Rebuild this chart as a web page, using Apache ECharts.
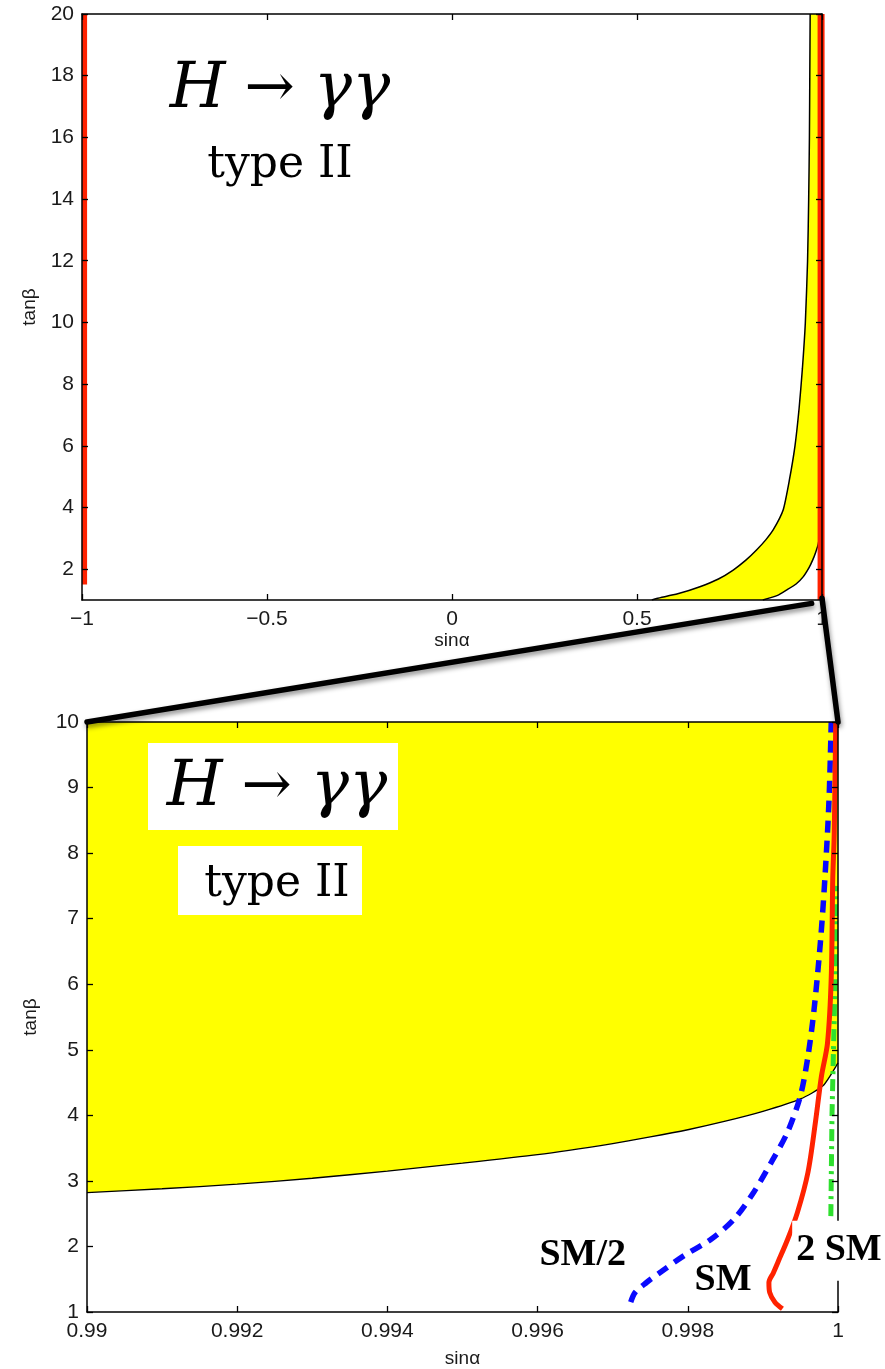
<!DOCTYPE html>
<html lang="en">
<head>
<meta charset="UTF-8">
<title>H → γγ type II</title>
<script src="https://cdn.jsdelivr.net/npm/echarts@6/dist/echarts.min.js"></script>
<style>
    html, body { margin: 0; padding: 0; background: #fff; }
    #chart { width: 885px; height: 1369px; }
</style>
</head>
<body>
<div id="chart"></div>
<script>
// ---- upper panel: sinα from -1 to 1 ----
var topLeftCurve = [[0.54, 1.0], [0.553, 1.05], [0.61, 1.2], [0.67, 1.43], [0.72, 1.68], [0.76, 1.97],
    [0.795, 2.3], [0.823, 2.62], [0.848, 2.95], [0.868, 3.27], [0.895, 3.92], [0.912, 4.9], [0.927, 6.0],
    [0.938, 7.2], [0.947, 8.5], [0.955, 10], [0.961, 12], [0.964, 14], [0.966, 16], [0.967, 18], [0.968, 20]];
var topRightCurve = [[0.84, 1.0], [0.88, 1.15], [0.904, 1.32], [0.93, 1.52], [0.949, 1.75], [0.965, 2.05],
    [0.975, 2.3], [0.983, 2.55], [0.99, 2.82], [0.995, 3.28], [1.0, 4.8]];
var topRedLeft = [[-0.993, 1.5], [-0.993, 20]];
var topRedRight = [[0.9975, 1], [0.9975, 20]];
var topYTicks = [2, 4, 6, 8, 10, 12, 14, 16, 18, 20];

// ---- lower panel: zoom on sinα 0.99 .. 1 ----
var lowerCurve = [[0.990, 2.82], [0.991, 2.88], [0.992, 2.95], [0.993, 3.04], [0.994, 3.15], [0.995, 3.27],
    [0.996, 3.40], [0.997, 3.57], [0.9975, 3.67], [0.998, 3.78], [0.9985, 3.91], [0.999, 4.06],
    [0.9995, 4.25], [0.9998, 4.45], [1.0, 4.8]];
var smHalf = [[0.99724, 1.15], [0.99730, 1.3], [0.99745, 1.45], [0.99764, 1.61], [0.99795, 1.86],
    [0.99831, 2.11], [0.99862, 2.42], [0.99888, 2.83], [0.99912, 3.3], [0.99933, 3.75], [0.99950, 4.3],
    [0.99960, 4.9], [0.99968, 5.6], [0.99977, 6.7], [0.99983, 7.7], [0.99988, 8.8], [0.99991, 10]];
var smOne = [[0.99926, 1.05], [0.99916, 1.15], [0.99909, 1.3], [0.99908, 1.45], [0.99914, 1.6],
    [0.99920, 1.76], [0.99933, 2.11], [0.99946, 2.52], [0.99960, 3.13], [0.99970, 3.9], [0.99978, 4.6],
    [0.99986, 5.1], [0.99991, 6.1], [0.99993, 7.6], [0.99995, 8.3], [0.99997, 10]];
var smTwo = [[0.99990, 1.7], [0.99990, 2], [0.99991, 3], [0.99992, 4], [0.99994, 5], [0.99996, 6], [0.99997, 7.5]];

// annotation baselines (lower panel data coords)
var curveLabels = [
    {text: 'SM/2', at: [0.99660, 1.70], align: 'center', pad: [0, 0, 0, 0], box: false},
    {text: 'SM', at: [0.99847, 1.32], align: 'center', pad: [4, 4, 4, 4], box: true},
    {text: '2 SM', at: [0.99939, 1.78], align: 'left', pad: [10, 4, 12, 4], box: true}
];

var topPolygon = topLeftCurve.concat([[1.0, 20]]).concat(topRightCurve.slice().reverse());

var labelFont = {color: '#1a1a1a', fontFamily: 'Liberation Sans', fontSize: 21};
var nameFont = {color: '#1a1a1a', fontFamily: 'Liberation Sans', fontSize: 19};

function minusFmt(v) {
    return v < 0 ? '\u2212' + Math.abs(v) : String(v);
}

function xAx(grid, min, max, interval, fmt, gap, pos) {
    var main = pos === 'bottom';
    return {
        gridIndex: grid, type: 'value', min: min, max: max, interval: interval, position: pos, z: 5,
        axisLine: {onZero: false, lineStyle: {color: '#000', width: 1.5}}, splitLine: {show: false},
        axisTick: {inside: true, length: 6, lineStyle: {color: '#000', width: 1.3}},
        axisLabel: Object.assign({show: main, formatter: fmt, margin: 9}, labelFont),
        name: main ? 'sin\u03b1' : '', nameLocation: 'middle', nameGap: gap, nameTextStyle: nameFont
    };
}

function yAx(grid, min, max, interval, custom, gap, pos) {
    var main = pos === 'left';
    var ax = {
        gridIndex: grid, type: 'value', min: min, max: max, position: pos, z: 5,
        axisLine: {onZero: false, lineStyle: {color: '#000', width: 1.5}}, splitLine: {show: false},
        axisTick: {inside: true, length: 6, lineStyle: {color: '#000', width: 1.3}},
        axisLabel: Object.assign({show: main, margin: 8}, labelFont),
        name: main ? 'tan\u03b2' : '', nameLocation: 'middle', nameGap: gap, nameTextStyle: nameFont
    };
    if (custom) {
        ax.axisTick.customValues = custom;
        ax.axisLabel.customValues = custom;
    } else {
        ax.interval = interval;
    }
    return ax;
}

function plainLine(data, xi, yi, style, extra) {
    return Object.assign({
        type: 'line', xAxisIndex: xi, yAxisIndex: yi, data: data,
        showSymbol: false, symbol: 'none', animation: false, silent: true,
        lineStyle: style
    }, extra || {});
}

var chart = echarts.init(document.getElementById('chart'), null, {renderer: 'canvas'});

chart.setOption({
    animation: false,
    backgroundColor: '#fff',
    grid: [
        {left: 82, right: 63, top: 14, height: 586},
        {left: 87, right: 47, top: 722, height: 591}
    ],
    xAxis: [
        xAx(0, -1, 1, 0.5, minusFmt, 30, 'bottom'),
        xAx(0, -1, 1, 0.5, minusFmt, 30, 'top'),
        xAx(1, 0.99, 1, 0.002, function (v) { return String(+v.toFixed(3)); }, 37, 'bottom'),
        xAx(1, 0.99, 1, 0.002, null, 37, 'top')
    ],
    yAxis: [
        yAx(0, 1, 20, null, topYTicks, 42, 'left'),
        yAx(0, 1, 20, null, topYTicks, 42, 'right'),
        yAx(1, 1, 10, 1, null, 47, 'left'),
        yAx(1, 1, 10, 1, null, 47, 'right')
    ],
    series: [
        // yellow band, upper panel
        {
            type: 'custom', xAxisIndex: 0, yAxisIndex: 0, data: [[0, 0]], silent: true, z: 1,
            renderItem: function (params, api) {
                var pts = topPolygon.map(function (p) { return api.coord(p); });
                return {type: 'polygon', shape: {points: pts}, style: {fill: '#ffff00'}};
            }
        },
        plainLine(topLeftCurve, 0, 0, {color: '#000', width: 1.5}, {z: 2, smooth: 0.2}),
        plainLine(topRightCurve, 0, 0, {color: '#000', width: 1.5}, {z: 2, smooth: 0.2}),
        plainLine(topRedLeft, 0, 0, {color: '#ff2200', width: 5}, {z: 3, clip: false}),
        plainLine(topRedRight, 0, 0, {color: '#ff2200', width: 7}, {z: 3, clip: false}),

        // yellow region, lower panel (filled up to the top of the axis)
        plainLine(lowerCurve, 2, 2, {color: '#000', width: 1.3},
            {z: 1, smooth: 0.2, areaStyle: {color: '#ffff00', opacity: 1, origin: 'end'}}),
        plainLine(smTwo, 2, 2, {color: '#2ee02e', width: 5, type: [12, 5, 3, 5]}, {z: 2}),
        plainLine(smHalf, 2, 2, {color: '#0a0aff', width: 5.5, type: [12, 8]}, {z: 3, smooth: 0.3}),
        plainLine(smOne, 2, 2, {color: '#ff2200', width: 5}, {z: 3, smooth: 0.3})
    ]
});

// decorations placed after layout, positions taken from the axes
function px(grid, p) {
    return chart.convertToPixel({xAxisIndex: grid * 2, yAxisIndex: grid * 2}, p);
}

var zoomLines = [
    [px(0, [0.972, 0.89]), px(1, [0.99, 10])],
    [px(0, [1.0, 1.06]), px(1, [1.0, 10])]
];

var graphics = [];
zoomLines.forEach(function (l) {
    graphics.push({
        type: 'line', z: 50,
        shape: {x1: l[0][0], y1: l[0][1], x2: l[1][0], y2: l[1][1]},
        style: {stroke: '#000', lineWidth: 5.5, lineCap: 'round',
            shadowColor: 'rgba(0,0,0,0.45)', shadowBlur: 5, shadowOffsetX: 1, shadowOffsetY: 3}
    });
});

var titleRich = {
    i: {fontFamily: 'DejaVu Serif', fontStyle: 'italic', fontSize: 64, fill: '#000'},
    r: {fontFamily: 'DejaVu Serif', fontSize: 60, fill: '#000'}
};

// baseline of the text ≈ top of its box + 0.8 * font size
function titleBlock(cx, baseH, baseT, boxes) {
    if (boxes) {
        graphics.push({type: 'rect', z: 40, shape: {x: 148, y: 743, width: 250, height: 87}, style: {fill: '#fff'}});
        graphics.push({type: 'rect', z: 40, shape: {x: 178, y: 846, width: 184, height: 69}, style: {fill: '#fff'}});
    }
    graphics.push({
        type: 'text', z: 41, x: cx, y: baseH + 10,
        style: {text: '{i|H}{r| \u2192 }{i|\u03b3\u03b3}', rich: titleRich, align: 'center', verticalAlign: 'bottom'}
    });
    graphics.push({
        type: 'text', z: 41, x: cx, y: baseT - 35,
        style: {text: 'type II', font: '44px "DejaVu Serif"', fill: '#000', align: 'center', verticalAlign: 'top'}
    });
}
titleBlock(280, 112, 179, false);
titleBlock(277, 810, 898, true);

curveLabels.forEach(function (c) {
    var p = px(1, c.at);
    graphics.push({
        type: 'text', z: 45, x: p[0], y: p[1] - 30 - c.pad[0],
        style: {
            text: c.text, font: 'bold 38px "Liberation Serif"', fill: '#000',
            align: c.align, verticalAlign: 'top',
            backgroundColor: c.box ? '#fff' : null, padding: c.pad
        }
    });
});

chart.setOption({graphic: graphics});
</script>
</body>
</html>
